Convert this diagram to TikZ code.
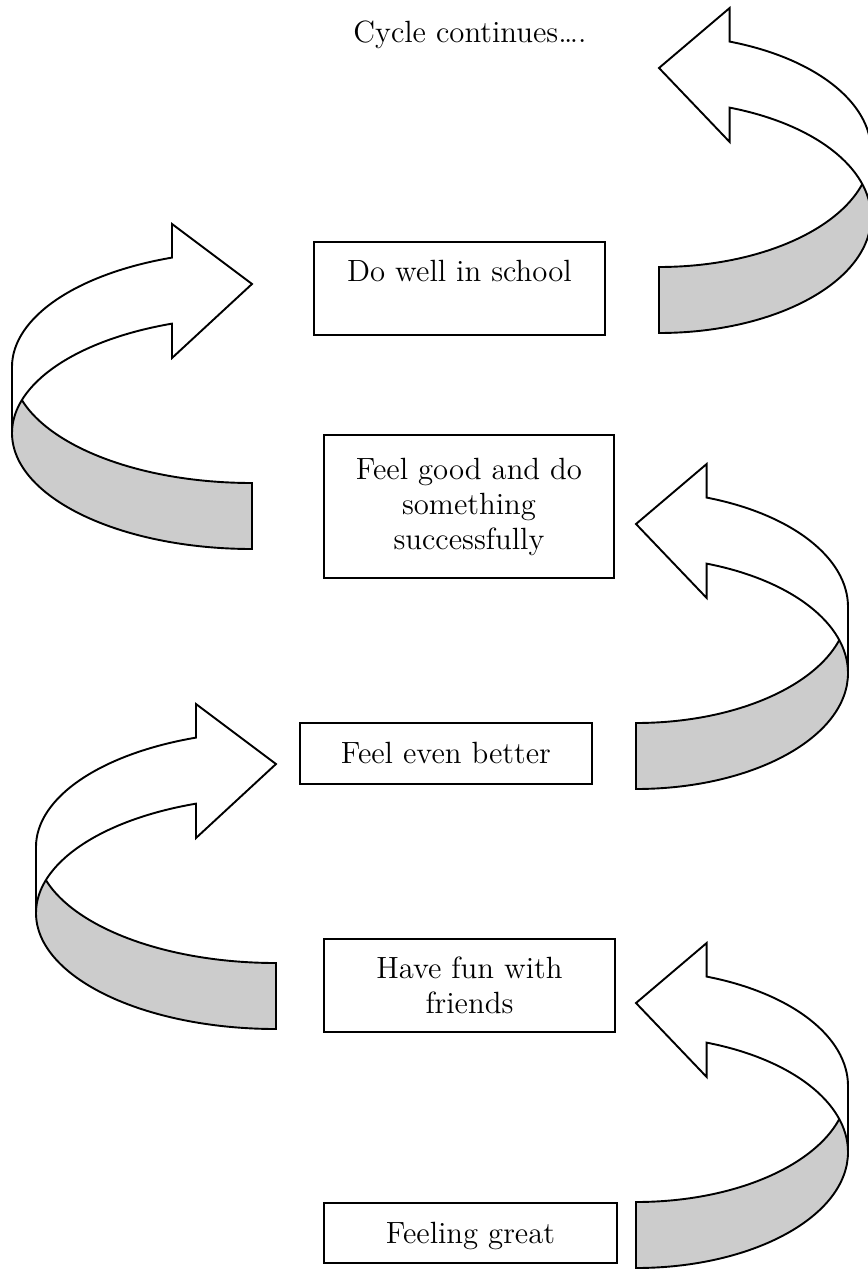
\documentclass[tikz,border=0pt]{standalone}
\usepackage{fontspec}
\usepackage{tikz}
\usetikzlibrary{positioning}

\tikzset{
	band/.style={draw, line width=0.8pt, fill=black!20},
	shaft/.style={draw, line width=0.8pt, fill=white},
	box/.style={draw, line width=0.8pt, inner sep=0pt, anchor=north west, align=center},
	words/.style={font=\fontsize{12.9}{14.7}\selectfont}
}

% turning ribbon arrow: (#1,#2) centre of the upper ellipse, #3 width, #4 = 1 band on the right, -1 band on the left
\def\ribbonarrow(#1,#2)(#3:#4){
	\begin{scope}[shift={(#1,#2)}, xscale=#4, yscale=-1]
		\draw[band] (0,-116) arc[start angle=-90, end angle=0, x radius=#3, y radius=116] -- (#3,-66) arc[start angle=0, end angle=-90, x radius=#3, y radius=116] -- cycle;
		\draw[shaft] (0,83) -- (#3/3,143) -- (#3/3,109.4) arc[start angle=70.53, end angle=0, x radius=#3, y radius=116] -- (#3,-66) arc[start angle=0, end angle=70.53, x radius=#3, y radius=116] -- (#3/3,9) -- cycle;
	\end{scope}}

\begin{document}
\begin{tikzpicture}[x=0.42pt, y=-0.42pt, words]
		%%%%% START %%%%%
		
		\useasboundingbox (0,0) rectangle (867,1271);
		
		\node[anchor=base west] (cycle) at (345,43) {Cycle continues….};
		
		\ribbonarrow(659,151)(212:1)
		\ribbonarrow(252,367)(240:-1)
		\ribbonarrow(636,607)(212:1)
		\ribbonarrow(276,847)(240:-1)
		\ribbonarrow(636,1086)(212:1)
		
		\node[box, minimum width=122.2pt, text height=16.8pt, text depth=22.3pt] (school) at (313,241) {Do well in school};
		\node[box, minimum width=121.8pt, minimum height=60.1pt] (success) at (323,434) {Feel good and do\\something\\successfully};
		\node[box, minimum width=122.6pt, text height=17.2pt, text depth=8.4pt] (better) at (299,722) {Feel even better};
		\node[box, minimum width=122.2pt, minimum height=39.1pt] (friends) at (323,938) {Have fun with\\friends};
		\node[box, minimum width=123.1pt, text height=17.2pt, text depth=8pt] (great) at (323,1202) {Feeling great};
		
		%%%%% END %%%%%
\end{tikzpicture}
\end{document}
